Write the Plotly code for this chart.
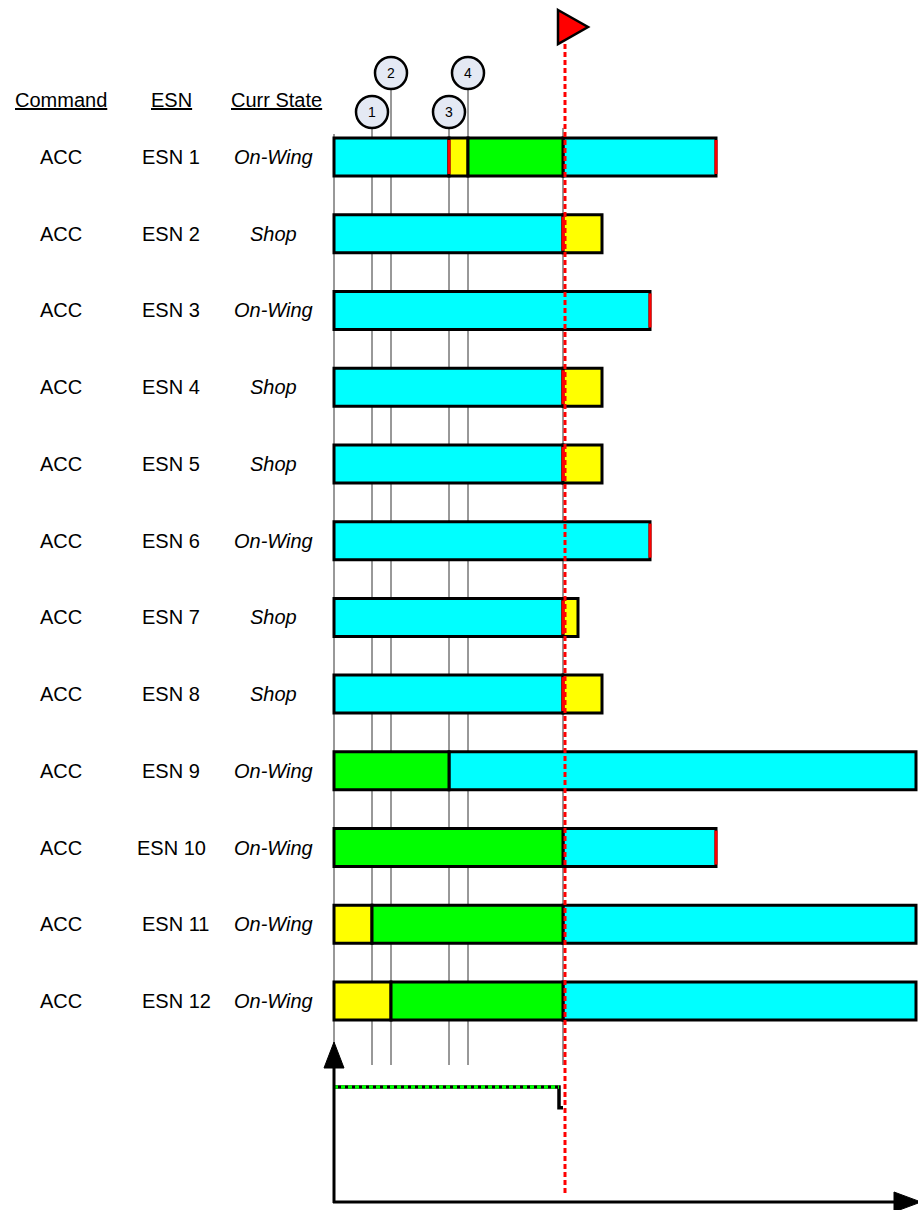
import plotly.graph_objects as go

# ---------------- data ----------------
commands = ["ACC"] * 12
esns = ["ESN 1", "ESN 2", "ESN 3", "ESN 4", "ESN 5", "ESN 6",
        "ESN 7", "ESN 8", "ESN 9", "ESN 10", "ESN 11", "ESN 12"]
states = ["On-Wing", "Shop", "On-Wing", "Shop", "Shop", "On-Wing",
          "Shop", "Shop", "On-Wing", "On-Wing", "On-Wing", "On-Wing"]

# timeline segments (row index, kind, start, end) in time units
seg_row = [0, 0, 0, 0,
           1, 1,
           2,
           3, 3,
           4, 4,
           5,
           6, 6,
           7, 7,
           8, 8,
           9, 9,
           10, 10, 10,
           11, 11, 11]
seg_kind = ["on", "shop", "inst", "on",
            "on", "shop",
            "on",
            "on", "shop",
            "on", "shop",
            "on",
            "on", "shop",
            "on", "shop",
            "inst", "on",
            "inst", "on",
            "shop", "inst", "on",
            "shop", "inst", "on"]
seg_start = [0, 115, 134, 229,
             0, 229,
             0,
             0, 229,
             0, 229,
             0,
             0, 229,
             0, 229,
             0, 115,
             0, 229,
             0, 38, 229,
             0, 57, 229]
seg_end = [115, 134, 229, 382,
           229, 268,
           316,
           229, 268,
           229, 268,
           316,
           229, 244,
           229, 268,
           115, 582,
           229, 382,
           38, 229, 582,
           57, 229, 582]

# removal marks (row, time)
red_row = [0, 0, 1, 2, 3, 4, 5, 6, 7, 9]
red_time = [115, 382, 229, 316, 229, 229, 316, 229, 229, 382]

# event markers
event_labels = ["1", "2", "3", "4"]
event_times = [38, 57, 115, 134]

now_time = 229

# bottom step series
step_x = [0, 225, 225, 229]
step_y = [100, 100, 82, 82]

kind_color = {"on": "#00FFFF", "shop": "#FFFF00", "inst": "#00FF00"}

# ---------------- layout helpers (pixel -> axis units) ----------------
W, H = 918, 1210
PX0 = 334.0
ROW0, ROWH = 157.0, 76.73


def X(px):
    return px - PX0


def Y(py):
    return (py - ROW0) / ROWH


FONT = "Liberation Sans, Arial, sans-serif"

fig = go.Figure()

# bars
for kind, col in kind_color.items():
    idx = [i for i, k in enumerate(seg_kind) if k == kind]
    fig.add_trace(go.Bar(
        orientation="h",
        y=[seg_row[i] for i in idx],
        base=[seg_start[i] for i in idx],
        x=[seg_end[i] - seg_start[i] for i in idx],
        width=38 / ROWH,
        marker=dict(color=col, line=dict(color="black", width=3)),
        hoverinfo="skip", showlegend=False,
    ))

# red removal marks
rx, ry = [], []
half = 17 / ROWH
for r, t in zip(red_row, red_time):
    rx += [t, t, None]
    ry += [r - half, r + half, None]
fig.add_trace(go.Scatter(x=rx, y=ry, mode="lines",
                         line=dict(color="#FF0000", width=3),
                         hoverinfo="skip", showlegend=False))

# red dashed "now" line
fig.add_trace(go.Scatter(x=[now_time + 2, now_time + 2], y=[Y(44), Y(1193)],
                         mode="lines",
                         line=dict(color="#FF0000", width=3, dash="5px,3px"),
                         hoverinfo="skip", showlegend=False))

# bottom step line
fig.add_trace(go.Scatter(x=step_x, y=step_y, mode="lines", yaxis="y2",
                         line=dict(color="black", width=3.5),
                         hoverinfo="skip", showlegend=False))
fig.add_trace(go.Scatter(x=step_x[:2], y=step_y[:2], mode="lines", yaxis="y2",
                         line=dict(color="#00FF00", width=3.5, dash="4px,3px"),
                         hoverinfo="skip", showlegend=False))

shapes = []
# thin vertical lines (below bars)
shapes.append(dict(type="line", xref="x", yref="y", x0=0, x1=0,
                   y0=Y(134), y1=Y(1045), layer="below",
                   line=dict(color="#333333", width=1)))
shapes.append(dict(type="line", xref="x", yref="y", x0=now_time, x1=now_time,
                   y0=Y(128), y1=Y(1065), layer="below",
                   line=dict(color="#333333", width=1)))

circle_cy = [112, 73, 112, 73]
R = 16
annotations = []
for lab, t, cy in zip(event_labels, event_times, circle_cy):
    shapes.append(dict(type="line", xref="x", yref="y", x0=t, x1=t,
                       y0=Y(cy + R), y1=Y(1065), layer="below",
                       line=dict(color="#333333", width=1)))
    shapes.append(dict(type="circle", xref="x", yref="y",
                       x0=t - R, x1=t + R, y0=Y(cy - R), y1=Y(cy + R),
                       fillcolor="#E4E9F4", line=dict(color="black", width=2.5)))
    annotations.append(dict(x=t, y=Y(cy), xref="x", yref="y", text=lab,
                            showarrow=False, font=dict(family=FONT, size=14, color="black"),
                            xanchor="center", yanchor="middle"))

# flag
shapes.append(dict(type="path", xref="x", yref="y",
                   path=f"M {X(558)},{Y(10)} L {X(588)},{Y(27)} L {X(558)},{Y(44)} Z",
                   fillcolor="#FF0000", line=dict(color="black", width=2.5)))

# bottom axes
shapes.append(dict(type="line", xref="x", yref="y", x0=0, x1=0,
                   y0=Y(1203), y1=Y(1062), line=dict(color="black", width=3)))
shapes.append(dict(type="path", xref="x", yref="y",
                   path=f"M {X(334)},{Y(1042)} L {X(344)},{Y(1068)} L {X(324)},{Y(1068)} Z",
                   fillcolor="black", line=dict(color="black", width=1)))
shapes.append(dict(type="line", xref="x", yref="y", x0=X(333), x1=X(898),
                   y0=Y(1202), y1=Y(1202), line=dict(color="black", width=3)))
shapes.append(dict(type="path", xref="x", yref="y",
                   path=f"M {X(894)},{Y(1192)} L {X(921)},{Y(1202)} L {X(894)},{Y(1212)} Z",
                   fillcolor="black", line=dict(color="black", width=1)))

# headers
for txt, px in [("<u>Command</u>", 61), ("<u>ESN</u>", 171), ("<u>Curr State</u>", 276)]:
    annotations.append(dict(x=X(px), y=Y(100), xref="x", yref="y", text=txt,
                            showarrow=False, font=dict(family=FONT, size=20, color="black"),
                            xanchor="center", yanchor="middle"))

# row labels
for i, (c, e, s) in enumerate(zip(commands, esns, states)):
    annotations.append(dict(x=X(61), y=i, xref="x", yref="y", text=c, showarrow=False,
                            font=dict(family=FONT, size=20, color="black"),
                            xanchor="center", yanchor="middle"))
    esn_left = 135 if e == "ESN 10" else 140
    annotations.append(dict(x=X(esn_left), y=i, xref="x", yref="y", text=e, showarrow=False,
                            font=dict(family=FONT, size=20, color="black"),
                            xanchor="left", yanchor="middle"))
    annotations.append(dict(x=X(273), y=i, xref="x", yref="y", text=f"<i>{s}</i>",
                            showarrow=False, font=dict(family=FONT, size=20, color="black"),
                            xanchor="center", yanchor="middle"))

fig.update_layout(
    width=W, height=H,
    margin=dict(l=0, r=0, t=0, b=0, pad=0),
    paper_bgcolor="white", plot_bgcolor="white",
    barmode="overlay",
    showlegend=False,
    hovermode=False,
    xaxis=dict(range=[X(0), X(W)], visible=False, fixedrange=True),
    yaxis=dict(range=[Y(H), Y(0)], visible=False, fixedrange=True),
    yaxis2=dict(range=[-(H - 1202) / 1.15, 1202 / 1.15], overlaying="y",
                visible=False, fixedrange=True),
    shapes=shapes,
    annotations=annotations,
)

fig.write_html(
    "out.html",
    config={"displayModeBar": False, "staticPlot": True},
    post_script="document.body.style.margin='0';document.body.style.overflow='hidden';",
)
